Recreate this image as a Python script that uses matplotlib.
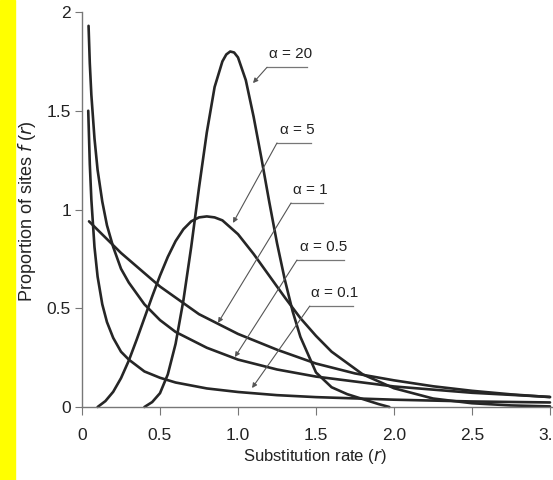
import matplotlib
matplotlib.use('Agg')
import matplotlib.pyplot as plt

plt.rcParams['font.family'] = ['Liberation Sans', 'DejaVu Sans']

# curves (substitution rate r, proportion f(r))
r_a01 = [0.04, 0.05, 0.06, 0.08, 0.10, 0.13, 0.16, 0.20, 0.25, 0.30, 0.40, 0.50,
         0.60, 0.80, 1.00, 1.25, 1.50, 2.00, 2.50, 3.00]
f_a01 = [1.50, 1.23, 1.05, 0.81, 0.66, 0.52, 0.43, 0.35, 0.28, 0.24, 0.18, 0.148,
         0.124, 0.094, 0.076, 0.060, 0.050, 0.037, 0.028, 0.023]

r_a05 = [0.042, 0.05, 0.06, 0.08, 0.10, 0.13, 0.16, 0.20, 0.25, 0.30, 0.40, 0.50,
         0.60, 0.80, 1.00, 1.25, 1.50, 2.00, 2.50, 3.00]
f_a05 = [1.93, 1.74, 1.58, 1.36, 1.20, 1.04, 0.92, 0.81, 0.70, 0.63, 0.52, 0.44,
         0.38, 0.30, 0.24, 0.19, 0.154, 0.104, 0.072, 0.051]

r_a1 = [0.045, 0.25, 0.5, 0.75, 1.0, 1.25, 1.5, 1.75, 2.0, 2.25, 2.5, 2.75, 3.0]
f_a1 = [0.94, 0.78, 0.61, 0.47, 0.37, 0.29, 0.22, 0.17, 0.135, 0.105, 0.082, 0.064, 0.05]

r_a5 = [0.10, 0.15, 0.20, 0.25, 0.30, 0.35, 0.40, 0.45, 0.50, 0.55, 0.60, 0.65, 0.70,
        0.75, 0.80, 0.85, 0.90, 1.00, 1.10, 1.20, 1.30, 1.40, 1.50, 1.60, 1.80, 2.00,
        2.25, 2.50, 2.75, 3.00]
f_a5 = [0.0, 0.03, 0.077, 0.146, 0.235, 0.34, 0.45, 0.56, 0.665, 0.76, 0.84, 0.90, 0.94,
        0.96, 0.965, 0.96, 0.945, 0.875, 0.775, 0.665, 0.555, 0.45, 0.36, 0.28, 0.165, 0.095,
        0.043, 0.019, 0.008, 0.003]

r_a20 = [0.40, 0.45, 0.50, 0.55, 0.60, 0.65, 0.70, 0.75, 0.80, 0.85, 0.90, 0.925, 0.95,
         0.975, 1.00, 1.05, 1.10, 1.15, 1.20, 1.25, 1.30, 1.35, 1.40, 1.50, 1.60, 1.70,
         1.80, 1.90, 1.97]
f_a20 = [0.0, 0.025, 0.07, 0.165, 0.32, 0.54, 0.81, 1.11, 1.39, 1.62, 1.75, 1.785, 1.80,
         1.795, 1.77, 1.655, 1.47, 1.26, 1.04, 0.83, 0.645, 0.485, 0.355, 0.175, 0.10, 0.065,
         0.04, 0.015, 0.0]

labels = ['\u03b1 = 20', '\u03b1 = 5', '\u03b1 = 1', '\u03b1 = 0.5', '\u03b1 = 0.1']
# underline start (left end), underline end x, arrow tip
line_x0 = [1.186, 1.25, 1.34, 1.378, 1.46]
line_x1 = [1.442, 1.468, 1.545, 1.679, 1.74]
line_y = [1.72, 1.337, 1.033, 0.744, 0.511]
tip_x = [1.096, 0.968, 0.872, 0.98, 1.09]
tip_y = [1.64, 0.932, 0.426, 0.253, 0.096]

xticks = [0, 0.5, 1.0, 1.5, 2.0, 2.5, 3.0]
xticklabels = ['0', '0.5', '1.0', '1.5', '2.0', '2.5', '3.0']
yticks = [0, 0.5, 1, 1.5, 2]
yticklabels = ['0', '0.5', '1', '1.5', '2']

fig = plt.figure(figsize=(5.53, 4.8), dpi=100)
fig.patches.append(plt.Rectangle((0, 0), 15 / 553, 1, transform=fig.transFigure,
                                 color='#ffff00', zorder=0))
ax = fig.add_axes([82 / 553, 73 / 480, 468 / 553, 395 / 480])

ink = '#262626'
for r, f in [(r_a01, f_a01), (r_a05, f_a05), (r_a1, f_a1), (r_a5, f_a5), (r_a20, f_a20)]:
    ax.plot(r, f, color=ink, lw=1.9, solid_capstyle='round', clip_on=False)

for i in range(len(labels)):
    ax.plot([line_x0[i], line_x1[i]], [line_y[i], line_y[i]], color='#777777', lw=0.9)
    ax.annotate('', xy=(tip_x[i], tip_y[i]), xytext=(line_x0[i], line_y[i]),
                arrowprops=dict(arrowstyle='-|>', color='#555555', lw=0.8,
                                mutation_scale=7, shrinkA=0, shrinkB=0))
    ax.text((line_x0[i] + line_x1[i]) / 2 + 0.02, line_y[i] + 0.03, labels[i],
            ha='center', va='bottom', fontsize=11, color='#222222')

ax.set_xlim(0, 3.0)
ax.set_ylim(0, 2)
ax.set_xticks(xticks)
ax.set_xticklabels(xticklabels)
ax.set_yticks(yticks)
ax.set_yticklabels(yticklabels)
for s in ['top', 'right']:
    ax.spines[s].set_visible(False)
for s in ['left', 'bottom']:
    ax.spines[s].set_color('#777777')
    ax.spines[s].set_linewidth(1.0)
ax.spines['bottom'].set_bounds(0, 3.1)
ax.tick_params(axis='x', length=6, width=0.8, color='#777777', pad=9, labelsize=12.5,
               labelcolor='#222222')
ax.tick_params(axis='y', length=5, width=0.8, color='#777777', pad=3, labelsize=12.5,
               labelcolor='#222222')

ax.set_xlabel('Substitution rate ($\\it{r}$)', fontsize=12, color='#222222')
ax.set_ylabel('Proportion of sites $\\it{f}$ ($\\it{r}$)', fontsize=13, color='#222222')
ax.xaxis.set_label_coords(0.498, -0.10)
ax.yaxis.set_label_coords(-0.094, 0.496)

fig.savefig('out.png', dpi=100)
